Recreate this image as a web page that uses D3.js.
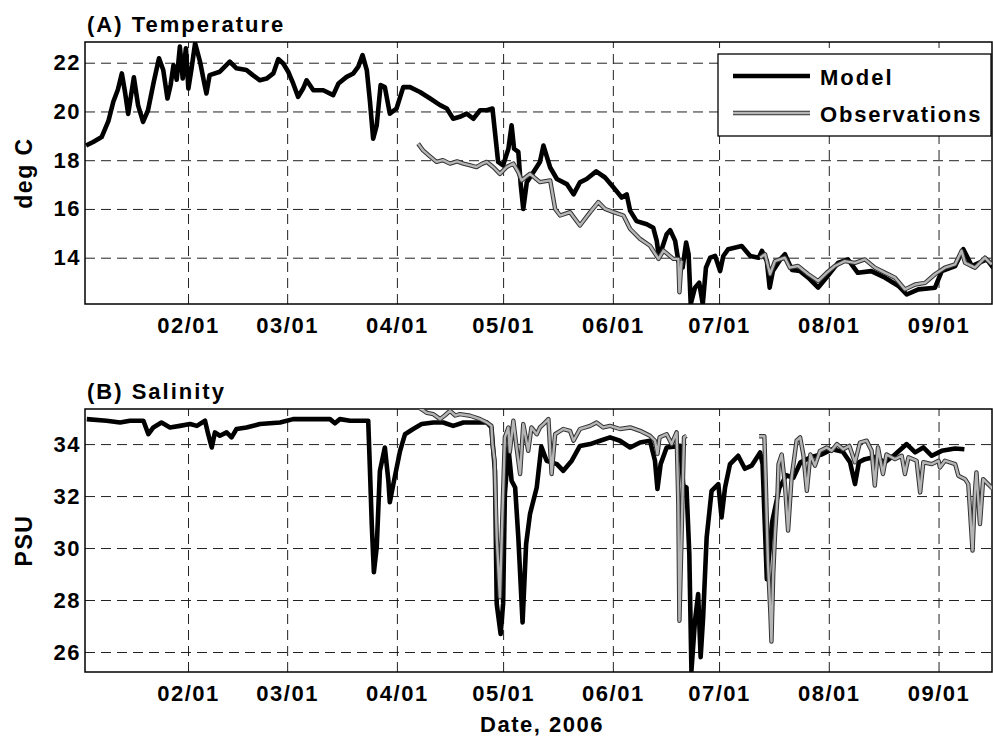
<!DOCTYPE html>
<html>
<head>
<meta charset="utf-8">
<script src="https://cdn.jsdelivr.net/npm/d3@7/dist/d3.min.js"></script>
<style>
  html, body { margin: 0; padding: 0; background: #fff; }
  svg { display: block; }
  text { font-family: "Liberation Sans", Arial, Helvetica, sans-serif; font-weight: bold; fill: #000; }
</style>
</head>
<body>
<svg id="chart" width="993" height="738"></svg>
<script>
// ---------------- DATA (days since 2006-01-01, values) ----------------
const monthTicks = ["2006-02-01","2006-03-01","2006-04-01","2006-05-01","2006-06-01","2006-07-01","2006-08-01","2006-09-01"];
const tempTicks = [14, 16, 18, 20, 22];
const salTicks = [26, 28, 30, 32, 34];
const seriesNames = ["Model", "Observations"];
const panelTitles = ["(A) Temperature", "(B) Salinity"];

const tempModelDays = [2.2,4.2,6.6,8.5,9.9,11.2,12.3,13.2,14.1,15.7,16.9,18.3,19.7,21.3,22.8,24.0,25.2,26.1,26.9,27.8,28.7,29.5,30.4,31.1,32.0,33.0,34.4,35.7,36.2,37.1,40.0,42.8,44.7,47.5,49.3,51.3,53.2,55.1,56.5,57.9,59.3,60.7,62.1,63.5,64.5,66.4,69.2,72.0,73.5,75.8,77.7,79.1,80.3,81.5,82.4,83.3,84.3,85.4,86.6,88.0,89.9,91.8,93.7,96.5,99.4,102.2,104.1,105.9,107.8,109.7,111.6,113.5,115.4,117.0,117.7,118.6,120.0,121.5,122.4,123.1,124.3,125.0,125.7,126.7,128.5,130.4,131.4,133.3,135.2,138.0,139.9,141.7,143.6,146.3,148.8,151.2,153.5,154.9,155.9,157.7,160.6,162.4,163.4,163.9,164.8,166.2,167.2,168.6,169.5,170.7,171.7,172.4,173.0,174.2,175.4,176.4,177.3,178.5,179.9,181.3,182.2,183.6,187.4,189.8,192.2,193.1,194.5,195.3,196.2,198.3,199.6,201.6,203.9,206.2,209.0,211.4,214.6,217.4,220.2,224.0,227.9,231.7,234.0,237.3,242.0,243.9,247.7,250.0,252.4,256.6,258.4];
const tempModelValues = [18.6,18.75,18.95,19.6,20.4,20.9,21.56,20.8,19.9,21.4,20.25,19.57,20.05,21.2,22.18,21.7,20.53,21.1,21.9,21.3,22.66,21.35,22.59,20.94,21.77,22.8,22.04,21.08,20.74,21.49,21.63,22.04,21.77,21.7,21.49,21.28,21.35,21.56,22.15,21.97,21.63,21.15,20.6,20.94,21.28,20.87,20.87,20.67,21.15,21.42,21.56,21.84,22.31,21.7,20.4,18.88,19.43,21.08,21.0,19.91,20.12,21.0,21.0,20.8,20.53,20.26,20.12,19.7,19.78,19.91,19.7,20.05,20.05,20.12,19.16,17.93,17.79,18.47,19.43,18.47,18.34,16.96,16.0,17.1,17.5,17.93,18.6,17.7,17.23,17.02,16.6,17.09,17.23,17.54,17.29,16.88,16.47,16.6,15.92,15.5,15.37,15.23,14.69,14.14,14.35,14.96,15.13,14.69,13.86,13.59,14.62,14.14,12.1,12.77,12.97,12.1,13.59,14.0,14.07,13.45,14.07,14.35,14.48,14.07,14.0,14.28,13.86,12.77,13.45,13.93,14.14,13.5,13.45,13.18,12.77,13.2,13.79,13.93,13.38,13.45,13.18,12.84,12.49,12.7,12.77,13.45,13.66,14.35,13.66,13.93,13.59];

const tempObsDays = [96.0,97.4,99.0,101.2,103.0,105.0,107.0,108.8,110.5,112.5,114.0,115.4,117.2,119.1,121.0,122.9,124.3,125.2,127.6,130.4,133.3,134.7,136.1,138.9,141.7,144.6,146.9,148.8,151.2,154.0,155.9,158.7,161.5,163.9,165.3,168.1,169.5,169.8,170.4,181.0,192.6,194.0,195.4,196.8,199.6,201.0,203.3,206.2,209.0,211.4,213.7,216.5,219.4,222.2,225.0,227.9,230.7,233.5,236.4,239.2,242.0,244.8,247.7,249.5,250.5,253.3,256.1,258.0];
const tempObsValues = [18.68,18.4,18.2,17.93,18.0,17.86,17.95,17.86,17.8,17.72,17.85,17.93,17.72,17.44,17.72,17.86,17.51,17.17,17.44,17.1,17.17,16.0,15.73,15.87,15.32,15.87,16.28,16.0,15.87,15.73,15.18,14.77,14.49,13.95,14.29,13.95,13.95,12.58,13.88,null,14.0,14.14,13.32,13.86,14.0,13.59,13.66,13.32,13.04,13.38,13.66,13.86,13.79,13.93,13.59,13.38,13.18,12.7,12.9,12.97,13.32,13.59,13.73,14.28,13.79,13.59,14.0,13.73];

const salModelDays = [2.4,8.0,11.8,14.6,18.4,19.8,21.2,23.5,25.9,28.7,31.6,33.5,35.8,36.7,37.7,38.6,40.0,41.9,43.3,44.7,47.5,51.3,57.0,60.7,66.4,71.1,72.5,73.9,76.8,81.9,82.4,82.9,83.5,84.3,85.2,86.6,87.6,88.0,89.0,90.9,92.3,94.6,97.0,100.3,103.1,105.9,108.8,112.5,115.4,116.7,117.7,118.2,119.3,120.0,120.5,121.5,122.4,123.4,124.3,125.5,126.5,127.6,129.5,130.8,132.3,135.2,137.0,139.4,141.7,144.6,147.4,150.2,153.0,155.9,158.7,161.5,162.9,163.6,164.5,166.2,170.0,170.9,171.8,172.6,173.2,174.2,175.1,175.8,176.5,177.5,178.9,180.8,181.7,182.7,184.1,186.4,188.3,190.2,192.6,193.3,194.5,196.0,198.0,200.0,202.0,204.0,207.0,210.0,213.0,216.0,218.0,219.4,220.5,222.2,225.0,227.9,230.7,234.0,236.4,238.7,241.1,243.9,247.7,250.3];
const salModelValues = [34.96,34.9,34.83,34.9,34.9,34.38,34.64,34.83,34.64,34.7,34.77,34.7,34.9,34.38,33.87,34.45,34.32,34.45,34.26,34.58,34.64,34.77,34.83,34.96,34.96,34.96,34.8,34.96,34.9,34.9,32.97,30.92,29.07,30.03,32.97,33.87,32.59,31.76,32.46,33.74,34.38,34.58,34.77,34.83,34.83,34.7,34.83,34.83,34.83,34.64,32.97,27.85,26.69,27.85,32.08,33.87,32.59,32.33,30.41,27.14,30.15,31.31,32.33,33.9,33.36,33.23,32.97,33.36,33.93,34.0,34.13,34.26,34.13,33.87,34.06,34.13,33.36,32.27,33.23,33.87,33.93,32.4,32.33,29.77,25.28,27.2,28.23,25.8,27.33,30.41,32.2,32.46,31.18,32.33,33.23,33.55,33.05,33.17,33.68,33.23,28.8,31.0,32.3,32.8,32.7,33.3,33.5,33.6,33.8,33.7,33.3,32.46,33.3,33.42,33.5,33.3,33.6,34.0,33.68,33.87,33.55,33.74,33.83,33.8];

const salObsDays = [96.5,98.5,100.3,102.2,103.5,105.0,106.5,107.8,110.7,113.5,115.4,116.7,117.0,117.6,118.2,119.1,119.9,120.5,121.5,121.9,122.9,123.8,124.8,125.7,127.1,128.0,129.5,130.4,131.4,132.8,133.7,134.7,137.0,138.9,139.9,141.7,144.6,146.4,148.3,150.2,153.0,155.9,158.7,161.5,162.9,163.6,164.2,166.2,167.6,169.0,169.5,169.8,170.4,171.1,171.8,182.0,192.3,193.8,194.2,194.8,195.5,195.8,196.3,196.8,197.5,197.8,198.7,199.6,200.5,201.5,202.9,203.9,204.8,205.8,206.8,208.1,209.5,211.4,212.8,214.3,216.1,217.8,219.4,220.8,222.7,224.1,225.0,225.9,227.3,228.3,230.7,232.6,233.5,234.5,236.8,237.8,238.7,241.1,243.0,243.4,244.8,247.7,248.6,250.5,251.4,251.9,252.6,253.3,253.7,254.7,255.6,257.0,258.4];
const salObsValues = [35.38,35.2,35.15,34.96,35.1,35.28,35.1,35.15,35.09,34.96,34.83,34.7,34.0,33.36,30.41,28.1,31.7,34.26,34.64,33.7,34.9,33.87,32.85,34.77,33.74,34.64,34.38,34.64,34.77,34.96,32.85,34.38,34.58,34.51,34.13,34.58,34.7,34.83,34.64,34.7,34.58,34.64,34.51,34.32,34.13,33.62,34.26,34.38,34.0,34.45,31.69,27.2,30.41,34.26,34.32,null,34.3,34.3,32.5,29.5,27.5,26.4,29.0,30.5,32.0,33.23,33.6,32.46,30.67,32.72,34.13,34.26,33.6,32.2,33.6,33.17,33.74,33.87,33.74,34.0,33.8,33.93,33.3,34.06,34.13,33.74,32.4,33.87,32.85,33.6,33.42,33.55,32.85,33.49,33.36,32.14,33.3,33.23,33.36,33.1,33.36,33.23,32.78,32.65,32.46,31.43,29.9,32.2,32.91,30.92,32.65,32.46,32.27];

// ---------------- CHART ----------------
const svg = d3.select("#chart");
const FONT = 22;
const zip = (ds, vs) => ds.map((d, i) => ({ t: new Date(Date.UTC(2006,0,1) + d * 864e5), v: vs[i] }));

const x0 = 85, x1 = 992;
const x = d3.scaleUtc()
  .domain([new Date(Date.UTC(2006,0,1) + 1.9 * 864e5), new Date(Date.UTC(2006,0,1) + 258.1 * 864e5)])
  .range([x0, x1]);
const tickDates = monthTicks.map(s => new Date(s + "T00:00:00Z"));

const panels = [
  { top: 42, bottom: 304, domain: [12.1, 22.85], ticks: tempTicks, ylabel: "deg C", title: panelTitles[0],
    model: zip(tempModelDays, tempModelValues), obs: zip(tempObsDays, tempObsValues), legend: true },
  { top: 409, bottom: 672, domain: [25.23, 35.35], ticks: salTicks, ylabel: "PSU", title: panelTitles[1],
    model: zip(salModelDays, salModelValues), obs: zip(salObsDays, salObsValues), legend: false, xlabel: "Date, 2006" }
];

panels.forEach((p, pi) => {
  const y = d3.scaleLinear().domain(p.domain).range([p.bottom, p.top]);
  const g = svg.append("g");
  const h = p.bottom - p.top, w = x1 - x0;

  const clipId = "clip" + pi;
  svg.append("clipPath").attr("id", clipId).append("rect")
    .attr("x", x0).attr("y", p.top).attr("width", w).attr("height", h);

  const ya = g.append("g").attr("transform", `translate(${x0},0)`)
    .call(d3.axisLeft(y).tickValues(p.ticks).tickSize(-w).tickPadding(4).tickFormat(d3.format("d")));
  ya.select(".domain").remove();
  ya.selectAll("line").attr("stroke", "#222").attr("stroke-width", 1).attr("stroke-dasharray", "10,6");
  ya.selectAll("text").attr("font-size", FONT).attr("letter-spacing", "1.5px").attr("fill", "#000");

  const xa = g.append("g").attr("transform", `translate(0,${p.bottom})`)
    .call(d3.axisBottom(x).tickValues(tickDates).tickSize(-h).tickPadding(13).tickFormat(d3.utcFormat("%m/%d")));
  xa.select(".domain").remove();
  xa.selectAll("line").attr("stroke", "#222").attr("stroke-width", 1).attr("stroke-dasharray", "10,6");
  xa.selectAll("text").attr("font-size", FONT).attr("letter-spacing", "1.5px").attr("fill", "#000");

  g.append("rect").attr("x", x0).attr("y", p.top).attr("width", w).attr("height", h)
    .attr("fill", "none").attr("stroke", "#000").attr("stroke-width", 1.5);

  const line = d3.line().defined(d => d.v != null).x(d => x(d.t)).y(d => y(d.v));
  const plot = g.append("g").attr("clip-path", `url(#${clipId})`);
  plot.append("path").datum(p.model).attr("d", line)
    .attr("fill", "none").attr("stroke", "#000").attr("stroke-width", 4.6).attr("stroke-linejoin", "round");
  plot.append("path").datum(p.obs).attr("d", line)
    .attr("fill", "none").attr("stroke", "#333").attr("stroke-width", 4.4).attr("stroke-linejoin", "round");
  plot.append("path").datum(p.obs).attr("d", line)
    .attr("fill", "none").attr("stroke", "#b5b5b5").attr("stroke-width", 2.4).attr("stroke-linejoin", "round");

  svg.append("text").attr("x", 87).attr("y", p.top - 10).attr("font-size", 22)
    .attr("letter-spacing", "2px").text(p.title);
  svg.append("text").attr("transform", `translate(32,${(p.top + p.bottom) / 2}) rotate(-90)`)
    .attr("text-anchor", "middle").attr("font-size", 23).attr("letter-spacing", "1.5px").text(p.ylabel);
  if (p.xlabel) {
    svg.append("text").attr("x", 542).attr("y", 732).attr("text-anchor", "middle")
      .attr("font-size", 22).attr("letter-spacing", "1.5px").text(p.xlabel);
  }

  if (p.legend) {
    const lg = svg.append("g");
    lg.append("rect").attr("x", 718).attr("y", 54).attr("width", 273).attr("height", 82)
      .attr("fill", "#fff").attr("stroke", "#000").attr("stroke-width", 1.3);
    lg.append("line").attr("x1", 733).attr("x2", 810).attr("y1", 76).attr("y2", 76)
      .attr("stroke", "#000").attr("stroke-width", 4.6);
    lg.append("line").attr("x1", 733).attr("x2", 810).attr("y1", 113).attr("y2", 113)
      .attr("stroke", "#333").attr("stroke-width", 4.4);
    lg.append("line").attr("x1", 733).attr("x2", 810).attr("y1", 113).attr("y2", 113)
      .attr("stroke", "#b5b5b5").attr("stroke-width", 2.4);
    lg.append("text").attr("x", 820).attr("y", 85).attr("font-size", 22).attr("letter-spacing", "2px").text(seriesNames[0]);
    lg.append("text").attr("x", 820).attr("y", 122).attr("font-size", 22).attr("letter-spacing", "1.8px").text(seriesNames[1]);
  }
});
</script>
</body>
</html>
